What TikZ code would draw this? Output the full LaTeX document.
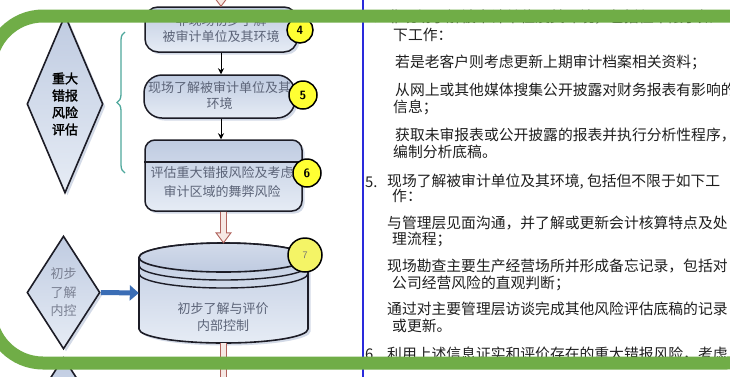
\documentclass[tikz,border=0pt]{standalone}
\usepackage{fontspec}
\newfontfamily\cjk{Noto Sans CJK SC}
\newfontfamily\cjkbold[FakeBold=2]{Noto Sans CJK SC}
\usetikzlibrary{shapes.geometric,arrows.meta,decorations.pathreplacing,shadows,calc}
\definecolor{boxtop}{HTML}{BFCBE1}
\definecolor{boxbot}{HTML}{E6ECF5}
\definecolor{edgec}{HTML}{1C1C26}
\definecolor{boxtext}{HTML}{5C6478}
\definecolor{dtext}{HTML}{7A8092}
\definecolor{framegreen}{HTML}{70AD47}
\definecolor{rulec}{HTML}{2A2ADC}
\definecolor{bracec}{HTML}{4FA89C}
\definecolor{brn}{HTML}{B0625C}
\definecolor{brnfill}{HTML}{F6E8E4}
\definecolor{yel}{HTML}{FFFF33}
\definecolor{yelpale}{HTML}{F4F466}
\definecolor{ablue}{HTML}{3A6DB5}
\definecolor{shadowc}{HTML}{D3DAE7}
\tikzset{
 myshadow/.style={drop shadow={shadow xshift=2.5pt, shadow yshift=-2.5pt, fill=shadowc, opacity=1}},
 boxshape/.style={draw=edgec, line width=1.5pt, top color=boxtop, bottom color=boxbot, inner sep=0pt, myshadow},
 diam/.style={boxshape, diamond, line width=1.6pt},
 numc/.style={circle, draw=black, line width=1.5pt, fill=yel, minimum size=27pt, inner sep=0pt, font=\sffamily\bfseries\fontsize{12}{12}\selectfont},
 boxlbl/.style={font=\cjk\fontsize{13}{16}\selectfont, text=boxtext, align=center, inner sep=0pt},
 rtext/.style={anchor=west, inner sep=0pt, font=\cjk\fontsize{14.8}{16}\selectfont, text=black!88},
 thinarrow/.style={draw=black, line width=1pt, -{Stealth[length=6pt,width=6pt]}},
 blockarr/.style={draw=brn, fill=brnfill, line width=0.9pt, line join=miter},
}
\newcommand\brnarrow[2]{\draw[blockarr] ($(#2 |- #1)+(-3,0)$) -- ($(#2)+(-3,10)$) -- ($(#2)+(-7.5,10)$) -- (#2) -- ($(#2)+(7.5,10)$) -- ($(#2)+(3,10)$) -- ($(#2 |- #1)+(3,0)$);}
\begin{document}
\begin{tikzpicture}[x=1pt,y=1pt]
\useasboundingbox (0,0) rectangle (730,-376);
\clip (0,0) rectangle (730,-376);
\fill[white] (0,0) rectangle (730,-376);

% diamonds
\node[diam, minimum width=76pt, minimum height=178pt] (d1) at (65,-104) {};
\node[font=\cjkbold\fontsize{13}{17}\selectfont, align=center, inner sep=0pt] (d1t) at (d1.center) {重大\\错报\\风险\\评估};
\node[diam, minimum width=73pt, minimum height=113pt] (d2) at (63.5,-292.5) {};
\node[font=\cjk\fontsize{13}{18.5}\selectfont, text=dtext, align=center, inner sep=0pt] (d2t) at (d2.center) {初步\\了解\\内控};
\node[diam, minimum width=73pt, minimum height=113pt] (d3) at (63.5,-414) {};

% brace
\draw[bracec, line width=1.3pt, decorate, decoration={brace, amplitude=8pt}] (125,-173) -- (125,-32);

% boxes
\node[boxshape, rounded corners=13pt, minimum width=152pt, minimum height=45pt] (b4) at (221,-29.5) {};
\node[boxlbl] (b4t) at (221,-29) {非现场初步了解\\被审计单位及其环境};
\node[boxshape, rounded corners=18pt, minimum width=151pt, minimum height=43pt] (b5) at (219.5,-96.5) {};
\node[boxlbl, text width=150pt] (b5t) at (219.5,-95.5) {现场了解被审计单位及其\\环境};
\node[boxshape, rounded corners=10pt, minimum width=157pt, minimum height=71pt] (b6) at (223.5,-175.5) {};
\draw[edgec, line width=1.2pt] (b6.west |- 0,-162) -- (b6.east |- 0,-162);
\node[boxlbl, font=\cjk\fontsize{13}{19}\selectfont] (b6t) at (222,-182.5) {评估重大错报风险及考虑\\审计区域的舞弊风险};

% cylinder
\node[inner sep=0pt, minimum width=169pt, minimum height=100pt] (cyl) at (223.5,-293) {};
\filldraw[draw=edgec, line width=1.6pt, top color=boxtop, bottom color=boxbot, myshadow]
  (139,-257.5) -- (139,-329) arc[start angle=180, end angle=360, x radius=84.5, y radius=14]
  -- (308,-257.5) arc[start angle=0, end angle=180, x radius=84.5, y radius=14.5] -- cycle;
\filldraw[draw=edgec, line width=1.6pt, top color=boxtop!70!white, bottom color=boxtop] (223.5,-257.5) ellipse[x radius=84.5, y radius=14.5];
\draw[edgec, line width=1.4pt] (139,-265.5) arc[start angle=180, end angle=360, x radius=84.5, y radius=14.5];
\draw[edgec, line width=1.4pt] (139,-273.5) arc[start angle=180, end angle=360, x radius=84.5, y radius=14.5];
\node[boxlbl, font=\cjk\fontsize{13}{17}\selectfont] (cylt) at (223,-317.5) {初步了解与评价\\内部控制};

% number circles
\node[numc, minimum size=26pt] (n4) at (300,-30) {4};
\node[numc, minimum size=28pt] (n5) at (303,-95) {5};
\node[numc, minimum size=28pt] (n6) at (307,-173) {6};
\node[numc, minimum size=34pt, fill=yelpale, text=black!55, font=\sffamily\fontsize{10}{10}\selectfont] (n7) at (305,-255) {7};

% connectors
\coordinate (topin) at (221,12);
\coordinate (botout) at (223.5,-400);
\brnarrow{topin}{b4.north}
\draw[thinarrow] (b4.south) -- (b4.south |- b5.north);
\draw[thinarrow] (b4.south |- b5.south) -- (b4.south |- b6.north);
\brnarrow{b6.south}{cyl.north}
\brnarrow{cyl.south}{botout}
\draw[ablue, line width=5pt, -{Triangle[length=9pt, width=15pt]}] (d2.east) -- (cyl.west);

% separator rule
\draw[rulec, line width=2.5pt] (363,5) -- (363,-380);

% right text
\node[rtext] (r0n) at (365,-17) {4.};
\node[rtext] (r0) at (387,-17) {非现场了解被审计单位及其环境，包括但不限于如};
\node[rtext] (r1) at (393,-35) {下工作：};
\node[rtext] (r2) at (395,-62) {若是老客户则考虑更新上期审计档案相关资料；};
\node[rtext] (r3) at (395,-90) {从网上或其他媒体搜集公开披露对财务报表有影响的};
\node[rtext] (r4) at (393,-107) {信息；};
\node[rtext] (r5) at (395,-135) {获取未审报表或公开披露的报表并执行分析性程序，};
\node[rtext] (r6) at (393,-152) {编制分析底稿。};
\node[rtext] (r7n) at (365,-182) {5.};
\node[rtext] (r7) at (387,-182) {现场了解被审计单位及其环境, 包括但不限于如下工};
\node[rtext] (r8) at (392,-196) {作：};
\node[rtext] (r9) at (387,-223) {与管理层见面沟通，并了解或更新会计核算特点及处};
\node[rtext] (r10) at (392,-239) {理流程；};
\node[rtext] (r11) at (387,-266) {现场勘查主要生产经营场所并形成备忘记录，包括对};
\node[rtext] (r12) at (392,-283) {公司经营风险的直观判断；};
\node[rtext] (r13) at (387,-309) {通过对主要管理层访谈完成其他风险评估底稿的记录};
\node[rtext] (r14) at (392,-326) {或更新。};
\node[rtext] (r15n) at (365,-354) {6.};
\node[rtext] (r15) at (387,-354) {利用上述信息证实和评价存在的重大错报风险，考虑};

% green frame
\draw[framegreen, line width=13pt, rounded corners=53pt] (-10,-16) rectangle (780,-363);
\end{tikzpicture}
\end{document}
